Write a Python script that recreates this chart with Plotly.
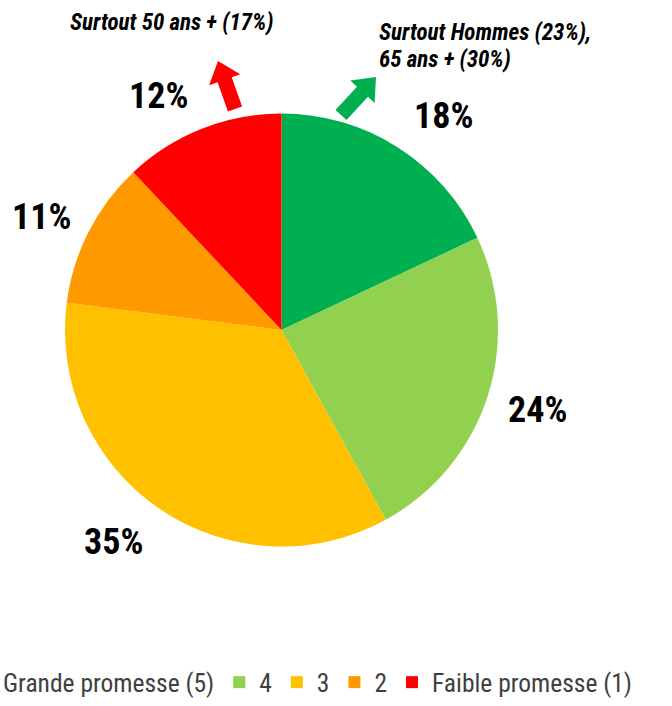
import math
import plotly.graph_objects as go

labels = ["Grande promesse (5)", "4", "3", "2", "Faible promesse (1)"]
values = [18, 24, 35, 11, 12]
colors = ["#00B050", "#92D050", "#FFC000", "#FF9900", "#FF0000"]
note_low = "Surtout 50 ans + (17%)"
note_high = ["Surtout Hommes (23%),", "65 ans + (30%)"]

W, H = 672, 706
FONT = "Roboto Condensed, Liberation Sans, Arial, sans-serif"

# layout: pie geometry and label anchor points (pixels)
cx, cy, R = 281.5, 330.0, 216.5
LABEL_POS = [(443, 116), (537, 410), (113, 542), (41, 217), (158, 96)]

dom_x = [(cx - R) / W, (cx + R) / W]
dom_y = [1 - (cy + R) / H, 1 - (cy - R) / H]


def px(x, y):
    return x / W, 1 - y / H


fig = go.Figure(go.Pie(
    labels=labels, values=values, sort=False, direction="clockwise", rotation=0,
    marker=dict(colors=colors, line=dict(width=0)),
    textinfo="none", hoverinfo="label+percent",
    domain=dict(x=dom_x, y=dom_y),
))

total = sum(values)
for v, (lx, ly) in zip(values, LABEL_POS):
    x, y = px(lx, ly)
    fig.add_annotation(x=x, y=y, xref="paper", yref="paper", showarrow=False,
                       xanchor="center", yanchor="middle",
                       text=f"<b>{round(v / total * 100)}%</b>",
                       font=dict(family=FONT, size=36, color="#000000"))


def arrow(tail, tip, shaft_w, head_w, head_len, color):
    dx, dy = tip[0] - tail[0], tip[1] - tail[1]
    L = math.hypot(dx, dy)
    ux, uy = dx / L, dy / L
    nx, ny = -uy, ux
    bx, by = tip[0] - ux * head_len, tip[1] - uy * head_len
    pts = [
        (tail[0] + nx * shaft_w / 2, tail[1] + ny * shaft_w / 2),
        (bx + nx * shaft_w / 2, by + ny * shaft_w / 2),
        (bx + nx * head_w / 2, by + ny * head_w / 2),
        tip,
        (bx - nx * head_w / 2, by - ny * head_w / 2),
        (bx - nx * shaft_w / 2, by - ny * shaft_w / 2),
        (tail[0] - nx * shaft_w / 2, tail[1] - ny * shaft_w / 2),
    ]
    p = [px(a, b) for a, b in pts]
    path = "M " + " L ".join(f"{a:.5f},{b:.5f}" for a, b in p) + " Z"
    fig.add_shape(type="path", path=path, xref="paper", yref="paper",
                  fillcolor=color, line=dict(width=0))


arrow((235, 109), (218, 61), 15, 33, 20, "#FF0000")
arrow((341, 115), (376, 77), 15, 33, 20, "#00B050")

x, y = px(68, 23)
fig.add_annotation(x=x, y=y, xref="paper", yref="paper", showarrow=False,
                   xanchor="left", yanchor="middle", text=f"<b><i>{note_low}</i></b>",
                   font=dict(family=FONT, size=23, color="#000000"))
for line, ly in zip(note_high, [33, 60]):
    x, y = px(377, ly)
    fig.add_annotation(x=x, y=y, xref="paper", yref="paper", showarrow=False,
                       xanchor="left", yanchor="middle", text=f"<b><i>{line}</i></b>",
                       font=dict(family=FONT, size=23, color="#000000"))

fig.update_layout(
    width=W, height=H,
    margin=dict(l=0, r=0, t=0, b=0, autoexpand=False),
    paper_bgcolor="white",
    font=dict(family=FONT),
    showlegend=True,
    legend=dict(orientation="h", x=-0.055, xanchor="left", y=-0.0001, yanchor="bottom",
                font=dict(family=FONT, size=25.5, color="#404040"),
                tracegroupgap=0, bgcolor="rgba(0,0,0,0)"),
)

fig.write_html("out.html", config={"displayModeBar": False},
               post_script="document.body.style.margin='0';")
